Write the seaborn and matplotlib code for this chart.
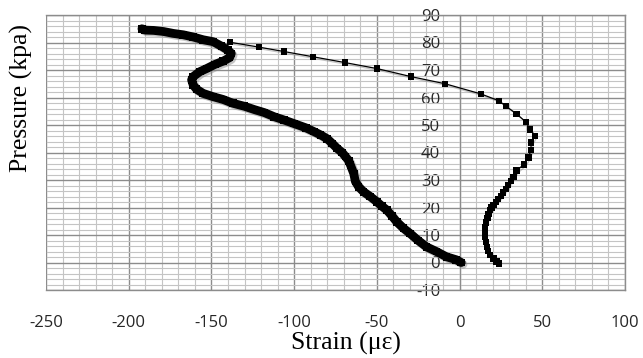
import matplotlib
matplotlib.use("Agg")
import matplotlib.pyplot as plt
import matplotlib.patheffects as pe
import seaborn as sns
import numpy as np
import pandas as pd

# Series A (thick, dense markers)
strain_a = [1, -2, -8, -14, -20, -25, -30, -34, -38, -41, -44, -47, -50, -54, -58, -61,
            -63, -64, -66, -67, -69, -71, -74, -77, -80, -84, -88, -93, -100, -106, -112,
            -118, -124, -130, -137, -143, -149, -155, -159, -161, -162, -161, -157, -153,
            -148, -143, -139, -138, -140, -144, -149, -155, -161, -167, -173, -179, -185,
            -190, -192]
pressure_a = [0, 1, 2.1, 4, 5.7, 8, 10.6, 12.5, 14.8, 17, 19.1, 20.5, 22.1, 24, 25.7, 27.5,
              29.5, 32.4, 35.5, 37, 38.5, 40, 41.5, 43.3, 45, 46.4, 47.6, 49, 50.5, 51.8, 53,
              54.5, 55.6, 56.8, 57.9, 59.3, 60.3, 61.5, 63, 64.5, 66.4, 67.6, 69.4, 70.5,
              72, 73.2, 74.5, 76, 77.2, 78.7, 80.3, 81, 82, 82.8, 83.3, 84, 84.4,
              84.5, 85]

# Series B (thin line with square markers)
strain_b = [24, 22.4, 20.5, 18.4, 17.3, 16.4, 15.8, 15.4, 15.2, 15.4, 16, 16.8, 17.5, 18.4,
            19.4, 20.4, 21.9, 23.4, 24.9, 26.4, 27.9, 29.4, 31, 32.5, 34.5, 38.9, 41.6,
            43.2, 43.2, 45.6, 42.6, 40.1, 34.5, 27.9, 23.8, 12.9, -8.8, -29.4, -49.8,
            -69.3, -88.5, -106, -121.1, -138.8]
pressure_b = [-0.3, 0.3, 1.5, 2.7, 4.2, 5.7, 7.5, 9.4, 11.2, 13, 14.5, 16.1, 17.6, 19.1,
              20, 20.9, 22, 23, 24.2, 25.4, 26.8, 28.2, 29.7, 31.2, 33.4, 35.7, 38.2,
              40.9, 43.6, 46.1, 48.4, 51.1, 54, 56.9, 58.8, 61.3, 65, 67.6, 70.5,
              72.7, 74.8, 76.7, 78.3, 80.1]

x_ticks = [-250, -200, -150, -100, -50, 0, 50, 100]
y_ticks = [-10, 0, 10, 20, 30, 40, 50, 60, 70, 80, 90]

sns.set_style("white")
plt.rcParams['font.family'] = ['Open Sans', 'DejaVu Sans']

fig = plt.figure(figsize=(6.43, 3.58), dpi=100)
ax = fig.add_axes([46/643, 1 - 290/358, (625 - 46)/643, (290 - 15)/358])

df_a = pd.DataFrame({"strain": strain_a, "pressure": pressure_a})
df_b = pd.DataFrame({"strain": strain_b, "pressure": pressure_b})

shadow = [pe.SimpleLineShadow(offset=(1.3, -1.3), shadow_color='gray', alpha=0.45), pe.Normal()]

sns.lineplot(data=df_a, x="strain", y="pressure", sort=False, estimator=None, ax=ax,
             color="black", linewidth=6.3, marker="s", markersize=5.5,
             markeredgewidth=0, zorder=5, path_effects=shadow)
sns.lineplot(data=df_b, x="strain", y="pressure", sort=False, estimator=None, ax=ax,
             color="black", linewidth=0.9, marker="s", markersize=4.6,
             markeredgewidth=0, zorder=6, path_effects=shadow)

ax.set_xlim(-250, 100)
ax.set_ylim(-10, 90)
ax.set_xticks(x_ticks)
ax.set_yticks(y_ticks)
ax.set_xticks(np.arange(-250, 101, 10), minor=True)
ax.set_yticks(np.arange(-10, 91, 2), minor=True)
ax.grid(which='major', color='#8c8c8c', linewidth=1.0, zorder=0)
ax.grid(which='minor', color='#c4c4c4', linewidth=0.8, zorder=0)
ax.set_axisbelow(True)

for s in ['top', 'right', 'bottom']:
    ax.spines[s].set_color('#8c8c8c')
    ax.spines[s].set_linewidth(1.0)
ax.spines['left'].set_position(('data', 0))
ax.spines['left'].set_color('#8c8c8c')
ax.axvline(-250, color='#8c8c8c', linewidth=1.2, zorder=1)

ax.tick_params(axis='both', which='both', length=0)
ax.tick_params(axis='x', pad=18, labelsize=12, labelcolor='#262626')
ax.tick_params(axis='y', pad=14, labelsize=12, labelcolor='#262626')
ax.set_xticklabels([str(v) for v in x_ticks])
ax.set_yticklabels([str(v) for v in y_ticks])

ax.set_xlabel("")
ax.set_ylabel("")
fig.text(346/643, 1 - 343/358, "Strain (με)", family='Liberation Serif', fontsize=18.5,
         ha='center', va='center', color='black')
fig.text(21/643, 1 - 98/358, "Pressure (kpa)", family='Liberation Serif', fontsize=18.5,
         ha='center', va='center', rotation=90, color='black')

fig.savefig("out.png", dpi=100)
